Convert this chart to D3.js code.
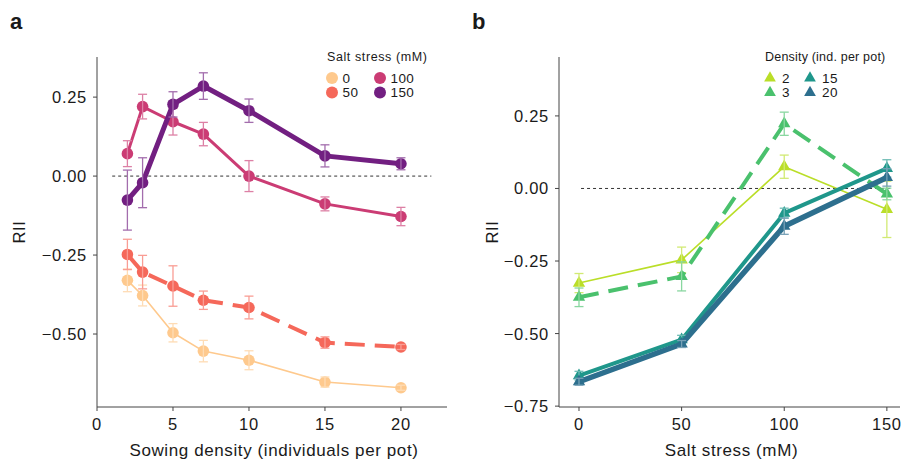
<!doctype html>
<html>
<head>
<meta charset="utf-8">
<style>
  body { margin: 0; background: #fff; }
  svg text { font-family: "Liberation Sans", Arial, Helvetica, sans-serif; fill: #1a1a1a; }
</style>
</head>
<body>
<svg id="chart" width="903" height="464"></svg>
<script src="https://cdn.jsdelivr.net/npm/d3@7"></script>
<script>
// ---- data, panel a (RII vs sowing density, one line per salt level) ----
const densities = [2, 3, 5, 7, 10, 15, 20];
const saltLevels = ["0", "50", "100", "150"];
const riiSalt0 = [-0.330, -0.378, -0.496, -0.554, -0.583, -0.652, -0.670];
const seSalt0 = [0.036, 0.033, 0.029, 0.034, 0.030, 0.016, 0.008];
const riiSalt50 = [-0.248, -0.304, -0.348, -0.393, -0.416, -0.527, -0.541];
const seSalt50 = [0.048, 0.053, 0.064, 0.029, 0.036, 0.018, 0.008];
const riiSalt100 = [0.071, 0.220, 0.172, 0.133, 0.000, -0.088, -0.128];
const seSalt100 = [0.041, 0.039, 0.042, 0.037, 0.049, 0.022, 0.029];
const riiSalt150 = [-0.076, -0.021, 0.227, 0.285, 0.207, 0.064, 0.039];
const seSalt150 = [0.095, 0.079, 0.040, 0.042, 0.037, 0.035, 0.019];

// ---- data, panel b (RII vs salt stress, one line per density) ----
const salts = [0, 50, 100, 150];
const densityLevels = ["2", "3", "15", "20"];
const riiDens2 = [-0.326, -0.246, 0.075, -0.072];
const seDens2 = [0.033, 0.044, 0.040, 0.097];
const riiDens3 = [-0.375, -0.303, 0.223, -0.019];
const seDens3 = [0.032, 0.050, 0.040, 0.020];
const riiDens15 = [-0.645, -0.521, -0.085, 0.069];
const seDens15 = [0.015, 0.015, 0.017, 0.030];
const riiDens20 = [-0.666, -0.536, -0.130, 0.038];
const seDens20 = [0.012, 0.012, 0.028, 0.030];

const ticksA_x = [0, 5, 10, 15, 20];
const ticksA_y = [0.25, 0, -0.25, -0.5];
const ticksB_x = [0, 50, 100, 150];
const ticksB_y = [0.25, 0, -0.25, -0.5, -0.75];

const svg = d3.select("#chart");
const fmt = d => d3.format(".2f")(d).replace("-", "\u2212");

// series styling
const seriesA = [
  { key: "0",   y: riiSalt0,   se: seSalt0,   color: "#FEC98D", w: 1.6, dash: null },
  { key: "50",  y: riiSalt50,  se: seSalt50,  color: "#F5685A", w: 4,   dash: "20,10" },
  { key: "100", y: riiSalt100, se: seSalt100, color: "#CB3C74", w: 3,   dash: null },
  { key: "150", y: riiSalt150, se: seSalt150, color: "#721F81", w: 5,   dash: null }
];
const seriesB = [
  { key: "2",  y: riiDens2,  se: seDens2,  color: "#BADE28", w: 1.6, dash: null },
  { key: "3",  y: riiDens3,  se: seDens3,  color: "#4AC16D", w: 4,   dash: "20,10" },
  { key: "15", y: riiDens15, se: seDens15, color: "#1F978B", w: 4,   dash: null },
  { key: "20", y: riiDens20, se: seDens20, color: "#2D6F8E", w: 5.5, dash: null }
];

function panel(opts) {
  const { x, y, xs, series, xticks, yticks, xfmt, marker, xlab, ylabX, letter, letterX,
          legendTitle, legendX, legendSp, colSp, textOff, zeroFrom, zeroTo } = opts;
  const g = svg.append("g");
  const [x0, x1] = x.range();
  const [y0, y1] = y.range(); // y0 bottom

  // zero reference line
  g.append("line")
    .attr("x1", x(zeroFrom)).attr("x2", x(zeroTo))
    .attr("y1", y(0)).attr("y2", y(0))
    .attr("stroke", "#333").attr("stroke-width", 1).attr("stroke-dasharray", "3,3");

  // axes
  g.append("line").attr("x1", x0).attr("x2", x0).attr("y1", y1).attr("y2", y0)
    .attr("stroke", "#444").attr("stroke-width", 1);
  g.append("line").attr("x1", x0).attr("x2", x1).attr("y1", y0).attr("y2", y0)
    .attr("stroke", "#444").attr("stroke-width", 1);

  yticks.forEach(t => {
    g.append("line").attr("x1", x0 - 4).attr("x2", x0).attr("y1", y(t)).attr("y2", y(t))
      .attr("stroke", "#444");
    g.append("text").attr("x", x0 - 10).attr("y", y(t)).attr("dy", "0.36em")
      .attr("text-anchor", "end").attr("font-size", 16.5).attr("letter-spacing", 0.7)
      .text(fmt(t));
  });
  xticks.forEach(t => {
    g.append("line").attr("x1", x(t)).attr("x2", x(t)).attr("y1", y0).attr("y2", y0 + 4)
      .attr("stroke", "#444");
    g.append("text").attr("x", x(t)).attr("y", y0 + 23)
      .attr("text-anchor", "middle").attr("font-size", 16.5).attr("letter-spacing", 0.7)
      .text(xfmt(t));
  });

  g.append("text").attr("x", (x0 + x1) / 2 + 2).attr("y", 456)
    .attr("text-anchor", "middle").attr("font-size", 17).attr("letter-spacing", 0.6)
    .text(xlab);
  g.append("text")
    .attr("transform", `translate(${ylabX},232) rotate(-90)`)
    .attr("text-anchor", "middle").attr("font-size", 16.5).attr("letter-spacing", 0.6)
    .text("RII");
  g.append("text").attr("x", letterX).attr("y", 29)
    .attr("font-size", 22).attr("font-weight", "bold").text(letter);

  const line = d3.line().x(d => x(d[0])).y(d => y(d[1]));

  series.forEach(s => {
    const pts = xs.map((v, i) => [v, s.y[i], s.se[i]]);
    const light = d3.interpolateRgb(s.color, "#ffffff")(0.35);
    g.append("path").datum(pts)
      .attr("d", line).attr("fill", "none")
      .attr("stroke", s.color).attr("stroke-width", s.w)
      .attr("stroke-linejoin", "round")
      .attr("stroke-dasharray", s.dash);

    const pg = g.append("g");
    pts.forEach(p => {
      if (marker === "circle") {
        pg.append("circle").attr("cx", x(p[0])).attr("cy", y(p[1])).attr("r", 5.8)
          .attr("fill", s.color);
      } else {
        pg.append("path").attr("d", d3.symbol(d3.symbolTriangle, 66)())
          .attr("transform", `translate(${x(p[0])},${y(p[1])})`)
          .attr("fill", s.color);
      }
    });
    const eg = g.append("g").attr("stroke", light).attr("stroke-width", 1.3).attr("fill", "none");
    pts.forEach(p => {
      const cx = x(p[0]);
      const ya = y(p[1] + p[2]), yb = y(p[1] - p[2]);
      eg.append("line").attr("x1", cx).attr("x2", cx).attr("y1", ya).attr("y2", yb);
      eg.append("line").attr("x1", cx - 4.5).attr("x2", cx + 4.5).attr("y1", ya).attr("y2", ya);
      eg.append("line").attr("x1", cx - 4.5).attr("x2", cx + 4.5).attr("y1", yb).attr("y2", yb);
    });
  });

  // legend
  const lg = g.append("g").attr("transform", `translate(${legendX},0)`);
  lg.append("text").attr("x", 0).attr("y", 61).attr("font-size", 12.5)
    .attr("letter-spacing", legendSp).text(legendTitle);
  series.forEach((s, i) => {
    const col = Math.floor(i / 2), row = i % 2;
    const cx = 5 + col * colSp;
    const cy = 78 + row * 14.5;
    if (marker === "circle") {
      lg.append("circle").attr("cx", cx).attr("cy", cy).attr("r", 6).attr("fill", s.color);
    } else {
      lg.append("path").attr("d", d3.symbol(d3.symbolTriangle, 60)())
        .attr("transform", `translate(${cx},${cy})`).attr("fill", s.color);
    }
    lg.append("text").attr("x", cx + textOff).attr("y", cy).attr("dy", "0.36em")
      .attr("font-size", 13.5).attr("letter-spacing", 0.4).text(s.key);
  });
}

// panel a
const xA = d3.scaleLinear().domain([0, 23.03]).range([97, 447]);
const yA = d3.scaleLinear().domain([-0.731, 0.377]).range([407, 57]);
panel({
  x: xA, y: yA, xs: densities, series: seriesA, xticks: ticksA_x, yticks: ticksA_y,
  xfmt: d => d, marker: "circle", xlab: "Sowing density (individuals per pot)",
  ylabX: 25, letter: "a", letterX: 10, legendTitle: "Salt stress (mM)", legendX: 327,
  legendSp: 0.6, colSp: 48, textOff: 10.5, zeroFrom: 1, zeroTo: 22
});

// panel b
const xB = d3.scaleLinear().domain([-9.74, 156.4]).range([559, 900]);
const yB = d3.scaleLinear().domain([-0.753, 0.453]).range([407, 57]);
panel({
  x: xB, y: yB, xs: salts, series: seriesB, xticks: ticksB_x, yticks: ticksB_y,
  xfmt: d => d, marker: "triangle", xlab: "Salt stress (mM)",
  ylabX: 498, letter: "b", letterX: 472, legendTitle: "Density (ind. per pot)", legendX: 765,
  legendSp: 0.2, colSp: 40, textOff: 12, zeroFrom: 1, zeroTo: 152.5
});
</script>
</body>
</html>
